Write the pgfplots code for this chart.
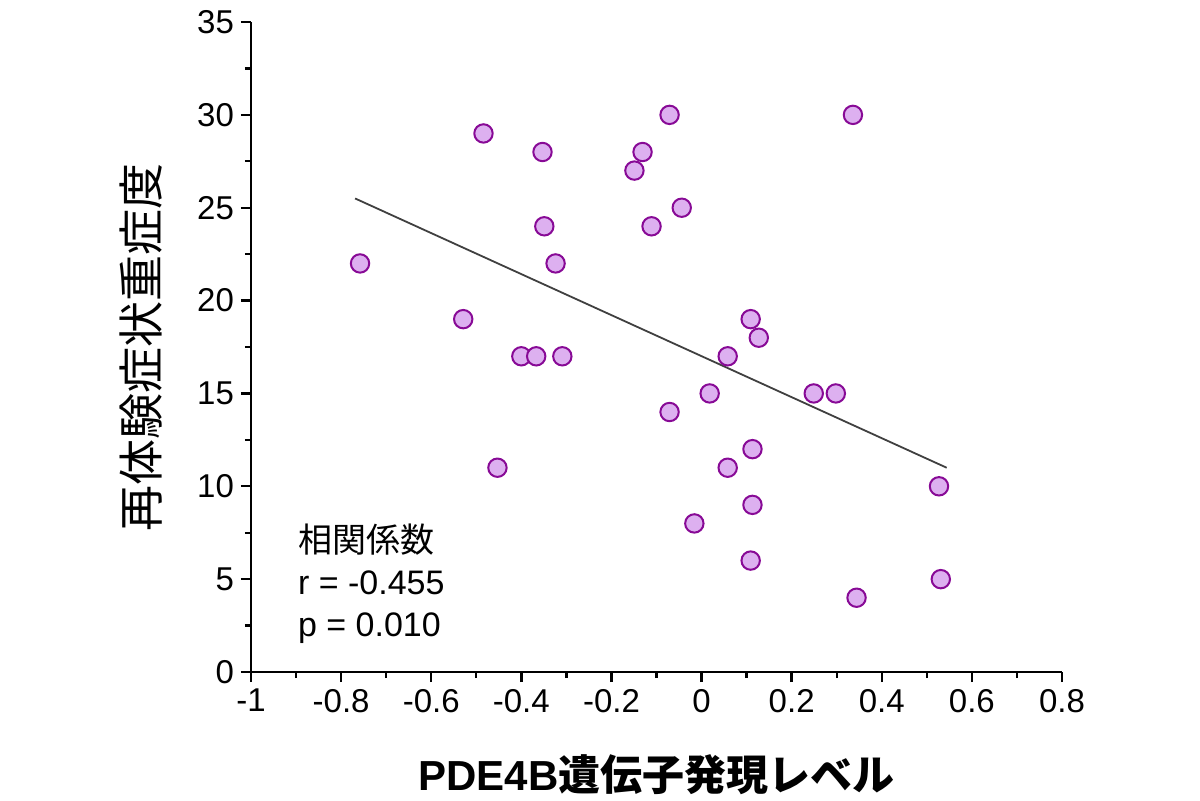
\documentclass[border=0pt]{standalone}
\usepackage{pgfplots}
\pgfplotsset{compat=1.18}
\usepackage{fontspec}
\setmainfont{Liberation Sans}
\newfontfamily\cjk{Noto Sans CJK JP}
\definecolor{mfill}{HTML}{DDB0F0}
\definecolor{medge}{HTML}{880A96}
\definecolor{fitc}{HTML}{404040}
\begin{document}
\begin{tikzpicture}
\useasboundingbox (-125.5pt,-64pt) rectangle (474.5pt,336pt);
\begin{axis}[
  at={(0,0)}, anchor=south west,
  scale only axis, width=405.5pt, height=325pt,
  xmin=-1, xmax=0.8, ymin=0, ymax=35,
  axis lines=left, axis line style={-, line width=1.2pt},
  xtick={-1,-0.8,...,0.8}, ytick={0,5,...,35},
  minor xtick={-0.9,-0.7,...,0.7}, minor ytick={2.5,7.5,...,32.5},
  tick align=outside, tick pos=left,
  major tick length=5pt, minor tick length=3pt,
  tick style={line width=1.2pt, black},
  xticklabel style={/pgf/number format/fixed, /pgf/number format/precision=1},
  /pgf/number format/assume math mode=true,
  ticklabel style={font=\fontsize{16.5pt}{18pt}\selectfont},
  clip=false,
]
\addplot[only marks, mark=*, mark size=4.6pt, mark options={fill=mfill, draw=medge, line width=1pt}]
coordinates {
(-0.758,22) (-0.484,29) (-0.353,28) (-0.071,30) (0.336,30) (-0.131,28)
(-0.149,27) (-0.044,25) (-0.349,24) (-0.111,24) (-0.324,22) (-0.529,19)
(-0.400,17) (-0.367,17) (-0.309,17) (-0.453,11) (0.109,19) (0.127,18)
(0.058,17) (0.018,15) (0.249,15) (0.298,15) (-0.071,14) (0.113,12)
(0.058,11) (0.113,9) (-0.016,8) (0.109,6) (0.527,10) (0.531,5) (0.344,4)
};
\addplot[fitc, line width=0.9pt] coordinates {(-0.769,25.5) (0.544,11.0)};
\end{axis}
\node[anchor=west, align=left, font=\fontsize{17pt}{21pt}\selectfont] at (20pt,44pt)
  {{\cjk 相関係数}\\r = -0.455\\p = 0.010};
\node[rotate=90, font=\fontsize{23pt}{26pt}\selectfont\cjk] at (-55pt,162.5pt) {再体験症状重症度};
\node[font=\fontsize{21pt}{24pt}\selectfont\bfseries] at (202.75pt,-51.5pt) {PDE4B{\cjk\bfseries 遺伝子発現レベル}};
\end{tikzpicture}
\end{document}
